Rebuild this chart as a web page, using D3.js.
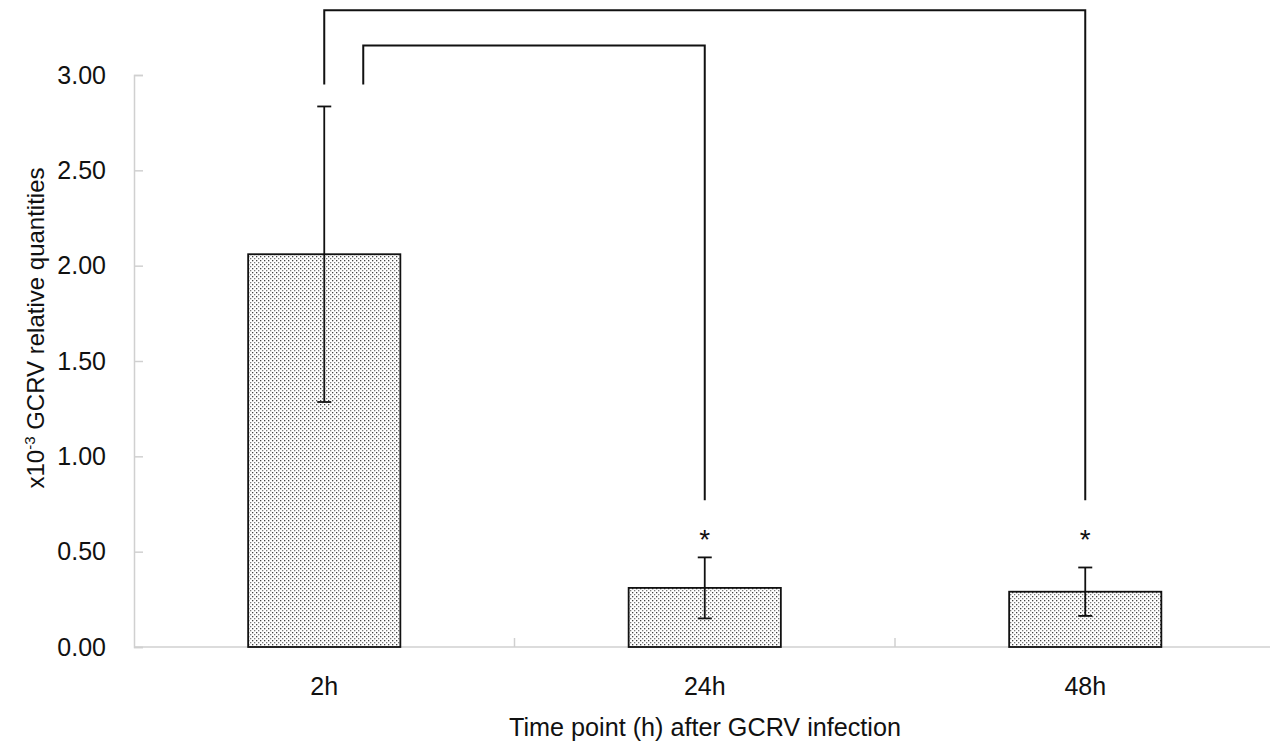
<!DOCTYPE html>
<html>
<head>
<meta charset="utf-8">
<script src="https://cdn.jsdelivr.net/npm/d3@7"></script>
<style>
  html, body { margin: 0; padding: 0; background: #fff; }
  svg { display: block; font-family: Arial, "Liberation Sans", Helvetica, sans-serif; }
</style>
</head>
<body>
<svg id="chart" width="1270" height="743"></svg>
<script>
// Time points after GCRV infection
const categories = ["2h", "24h", "48h"];
// Mean relative quantity (x10^-3) and its error (±)
const means = [2.06, 0.31, 0.29];
const errors = [0.775, 0.16, 0.127];
// Y axis tick values
const yTicks = [0, 0.5, 1.0, 1.5, 2.0, 2.5, 3.0];
// Significance marks drawn above the bars
const starred = ["24h", "48h"];
const starLevel = 0.6;
// Comparison brackets: from group, to group, level of the horizontal bar, leg ends
const bracketFrom = ["2h", "2h"];
const bracketTo = ["48h", "24h"];
const bracketTop = [3.34, 3.155];
const bracketStart = [2.95, 2.95];
const bracketEnd = [0.77, 0.77];

const svg = d3.select("#chart");
const plot = { left: 134, right: 1275.5, top: 75, bottom: 647 };

const x = d3.scaleBand()
  .domain(categories)
  .range([plot.left, plot.right])
  .paddingInner(0.6)
  .paddingOuter(0.3);

const y = d3.scaleLinear().domain([0, 3]).range([plot.bottom, plot.top]);

// Dotted fill used by the bars
const defs = svg.append("defs");
const pat = defs.append("pattern")
  .attr("id", "dots")
  .attr("patternUnits", "userSpaceOnUse")
  .attr("width", 4).attr("height", 4);
pat.append("rect").attr("width", 4).attr("height", 4).attr("fill", "#fff");
pat.append("rect").attr("x", 0).attr("y", 0).attr("width", 1.3).attr("height", 1.3).attr("fill", "#444");
pat.append("rect").attr("x", 2).attr("y", 2).attr("width", 1.3).attr("height", 1.3).attr("fill", "#7a7a7a");

const axisColor = "#d0d0d0";

// Y axis (ticks point into the plot)
const yAxis = svg.append("g")
  .attr("transform", `translate(${plot.left},0)`)
  .call(d3.axisLeft(y).tickValues(yTicks).tickFormat(d3.format(".2f")).tickSize(-9).tickPadding(28));
yAxis.select(".domain").attr("stroke", axisColor).attr("stroke-width", 1.5);
yAxis.selectAll(".tick line").attr("stroke", axisColor).attr("stroke-width", 1.5);
yAxis.selectAll(".tick text").attr("fill", "#111").style("font-size", "25px");

// X axis baseline with separators between groups
const xAxisG = svg.append("g");
xAxisG.append("line")
  .attr("x1", plot.left).attr("x2", plot.right)
  .attr("y1", y(0)).attr("y2", y(0))
  .attr("stroke", axisColor).attr("stroke-width", 1.5);
const step = x.step();
const separators = categories.slice(1).map(c => x(c) - step * x.paddingInner() / 2);
xAxisG.selectAll("line.sep")
  .data(separators)
  .join("line")
  .attr("class", "sep")
  .attr("x1", d => d).attr("x2", d => d)
  .attr("y1", y(0)).attr("y2", y(0) - 9)
  .attr("stroke", axisColor).attr("stroke-width", 1.5);

const xLabels = svg.append("g")
  .attr("transform", `translate(0,${y(0)})`)
  .call(d3.axisBottom(x).tickSize(0).tickPadding(30));
xLabels.select(".domain").remove();
xLabels.selectAll(".tick text").attr("fill", "#111").style("font-size", "25px");

// Bars
svg.append("g").selectAll("rect")
  .data(categories)
  .join("rect")
  .attr("x", d => x(d))
  .attr("width", x.bandwidth())
  .attr("y", (d, i) => y(means[i]))
  .attr("height", (d, i) => y(0) - y(means[i]))
  .attr("fill", "url(#dots)")
  .attr("stroke", "#111")
  .attr("stroke-width", 1.8);

// Error bars
const cx = d => x(d) + x.bandwidth() / 2;
const eb = svg.append("g").attr("stroke", "#111").attr("stroke-width", 1.8);
categories.forEach((c, i) => {
  const hi = y(means[i] + errors[i]);
  const lo = y(means[i] - errors[i]);
  eb.append("line").attr("x1", cx(c)).attr("x2", cx(c)).attr("y1", hi).attr("y2", lo);
  eb.append("line").attr("x1", cx(c) - 7).attr("x2", cx(c) + 7).attr("y1", hi).attr("y2", hi);
  eb.append("line").attr("x1", cx(c) - 7).attr("x2", cx(c) + 7).attr("y1", lo).attr("y2", lo);
});

// Comparison brackets
const br = svg.append("g").attr("fill", "none").attr("stroke", "#111").attr("stroke-width", 2);
bracketFrom.forEach((f, i) => {
  const x0 = cx(f) + i * 39;
  const x1 = cx(bracketTo[i]);
  br.append("path").attr("d", d3.line()([
    [x0, y(bracketStart[i])],
    [x0, y(bracketTop[i])],
    [x1, y(bracketTop[i])],
    [x1, y(bracketEnd[i])]
  ]));
});

// Asterisks
svg.append("g").selectAll("text")
  .data(starred)
  .join("text")
  .attr("x", d => cx(d))
  .attr("y", y(starLevel) + 16)
  .attr("text-anchor", "middle")
  .attr("fill", "#111")
  .style("font-size", "28px")
  .text("*");

// Axis titles
svg.append("text")
  .attr("x", 705).attr("y", 736)
  .attr("text-anchor", "middle")
  .attr("fill", "#111")
  .style("font-size", "25.2px")
  .text("Time point (h) after GCRV infection");

const yt = svg.append("text")
  .attr("transform", "translate(44,328) rotate(-90)")
  .attr("text-anchor", "middle")
  .attr("fill", "#111")
  .style("font-size", "24px");
yt.append("tspan").text("x10");
yt.append("tspan").attr("dy", -9).style("font-size", "15px").text("-3");
yt.append("tspan").attr("dy", 9).text(" GCRV relative quantities");
</script>
</body>
</html>
